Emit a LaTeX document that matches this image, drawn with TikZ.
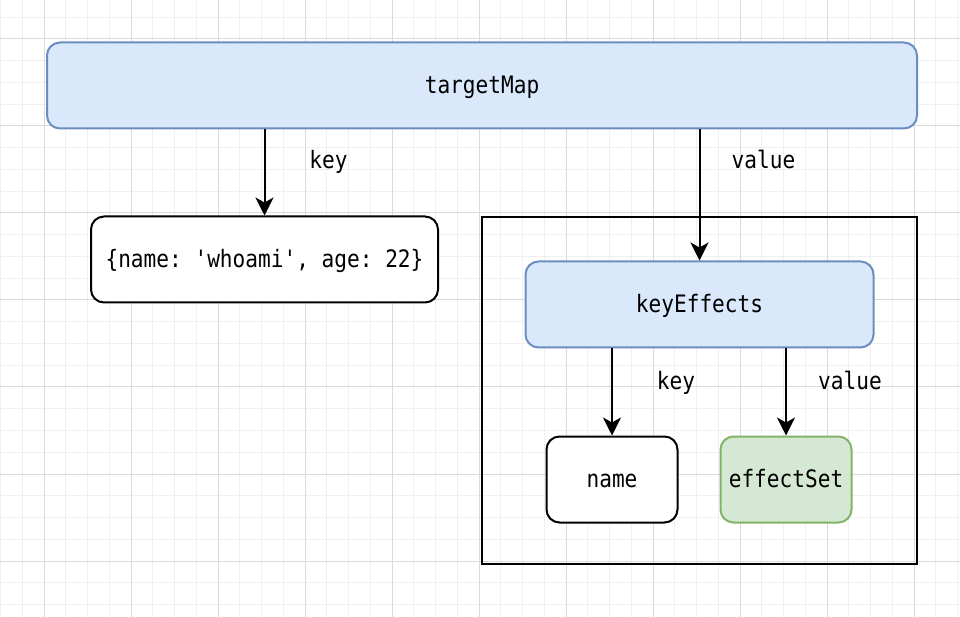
\documentclass[tikz,border=0pt]{standalone}
\usepackage{fontspec}
\setmonofont[FakeStretch=0.88]{DejaVu Sans Mono}
\usetikzlibrary{arrows.meta,positioning}
\definecolor{blueFill}{HTML}{DAE8FC}
\definecolor{blueLine}{HTML}{6C8EBF}
\definecolor{greenFill}{HTML}{D5E8D4}
\definecolor{greenLine}{HTML}{82B366}
\definecolor{gridMinor}{HTML}{F0F0F0}
\definecolor{gridMajor}{HTML}{DADADA}

\begin{document}
\begin{tikzpicture}[
    x=1pt, y=1pt,
    font=\ttfamily\fontsize{24}{28}\selectfont,
    box/.style={draw, rounded corners=13pt, line width=2pt, minimum height=86pt, inner sep=0pt, text height=16pt, text depth=0pt, fill=white},
    bluebox/.style={box, fill=blueFill, draw=blueLine},
    greenbox/.style={box, fill=greenFill, draw=greenLine},
    frame/.style={draw, line width=2pt, inner sep=0pt, minimum width=435pt, minimum height=346pt},
    arrow/.style={-{Stealth[length=18pt, width=18pt, inset=5pt]}, line width=2pt},
    lbl/.style={pos=0, xshift=64pt, yshift=-31pt, inner sep=0pt, text height=16pt, text depth=0pt}
]
    % Background and grid
    \useasboundingbox (0,0) rectangle (960,616);
    \fill[white] (0,0) rectangle (960,616);
    \begin{scope}
        \clip (0,0) rectangle (960,616);
        \begin{scope}[shift={(44,55)}]
            \draw[gridMinor, line width=1pt] (-88,-88) grid[step=21.75pt] (960,616);
            \draw[gridMajor, line width=1pt] (-88,-88) grid[step=87pt] (960,616);
        \end{scope}
    \end{scope}

    % Nodes
    \node[bluebox, minimum width=870pt] (targetMap) at (482,530.5) {targetMap};
    \node[box, minimum width=347pt, below right=86pt and 44pt of targetMap.south west] (obj) {\{name: 'whoami', age: 22\}};
    \node[frame, below left=87pt and 0pt of targetMap.south east] (container) {};
    \node[bluebox, minimum width=348pt, below=44pt of container.north] (keyEffects) {keyEffects};
    \node[box, minimum width=131pt, below right=87pt and 21pt of keyEffects.south west] (name) {name};
    \node[greenbox, minimum width=131pt, below left=87pt and 22pt of keyEffects.south east] (effectSet) {effectSet};

    % Arrows
    \draw[arrow] (obj.north |- targetMap.south) -- node[lbl] (keyOuter) {key} (obj.north);
    \draw[arrow] (keyEffects.north |- targetMap.south) -- node[lbl] (valueOuter) {value} (keyEffects.north);
    \draw[arrow] (name.north |- keyEffects.south) -- node[lbl, yshift=-2pt] (keyInner) {key} (name.north);
    \draw[arrow] (effectSet.north |- keyEffects.south) -- node[lbl, yshift=-2pt] (valueInner) {value} (effectSet.north);

\end{tikzpicture}
\end{document}
